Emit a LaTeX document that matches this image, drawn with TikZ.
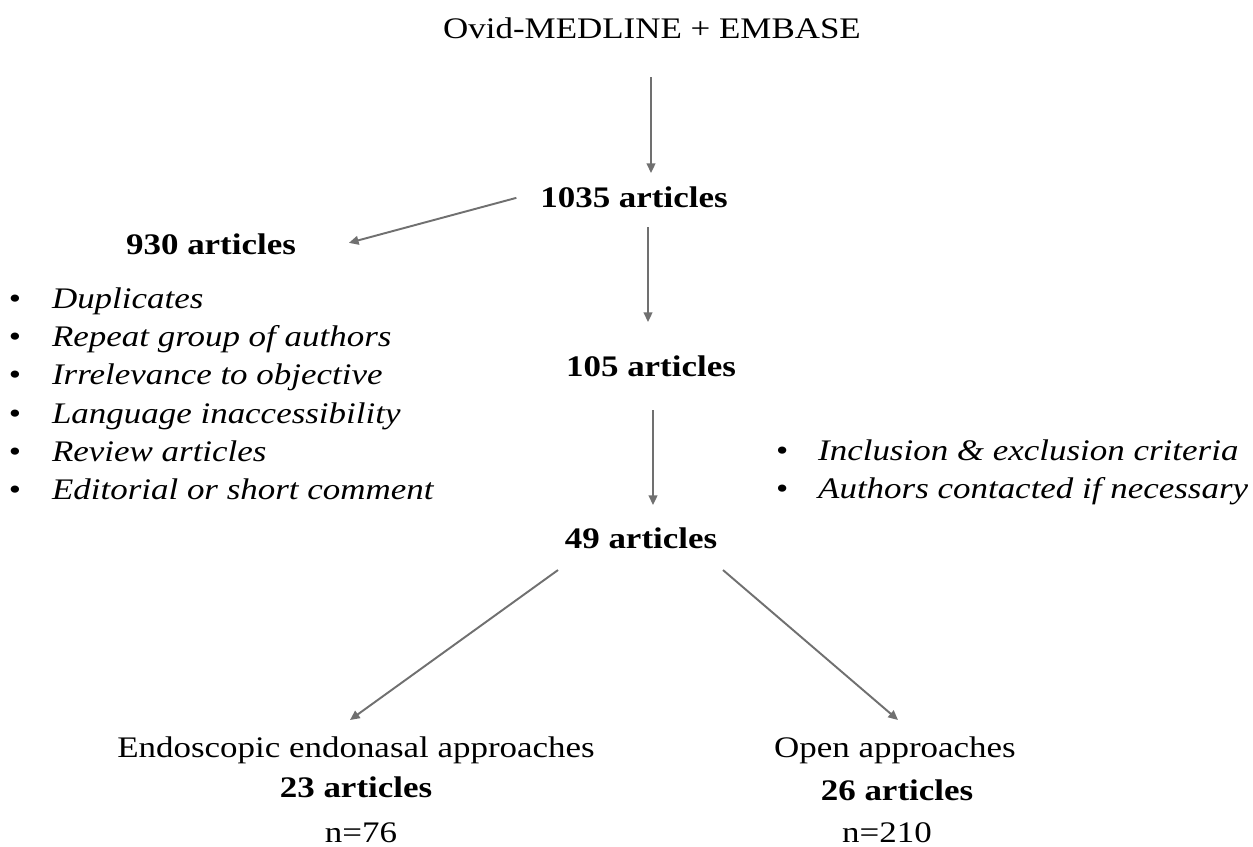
\documentclass[tikz,border=0pt]{standalone}
\usepackage{fontspec}
\setmainfont{Liberation Serif}[FakeStretch=1.17]
\usetikzlibrary{arrows.meta}
\definecolor{arrgray}{RGB}{112,112,112}
\begin{document}
\begin{tikzpicture}[x=0.02cm,y=-0.02cm,
  txt/.style={inner sep=0pt,outer sep=0pt,anchor=base,text height=11pt,text depth=4pt,font=\fontsize{17}{20}\selectfont},
  bold/.style={txt,font=\fontsize{17}{20}\selectfont\bfseries},
  lst/.style={inner sep=0pt,outer sep=0pt,anchor=base west,font=\fontsize{17}{21.85}\selectfont\itshape},
  arr/.style={draw=arrgray,line width=1.1pt,-{Triangle[length=5.5pt,width=5pt]}}]
\useasboundingbox (0,0) rectangle (1253,846);
\node[txt] (title) at (652,38) {Ovid-MEDLINE + EMBASE};
\node[bold] (n1035) at (634,207) {1035 articles};
\node[bold] (n930) at (211,254) {930 articles};
\node[bold] (n105) at (651,376) {105 articles};
\node[bold] (n49) at (641,548) {49 articles};
\node[lst] (excl) at (9,308) {\begin{tabular}[t]{@{}p{24.5pt}@{}l@{}}
{\upshape\textbullet} & Duplicates\\
{\upshape\textbullet} & Repeat group of authors\\
{\upshape\textbullet} & Irrelevance to objective\\
{\upshape\textbullet} & Language inaccessibility\\
{\upshape\textbullet} & Review articles\\
{\upshape\textbullet} & Editorial or short comment
\end{tabular}};
\node[lst] (crit) at (776,460) {\begin{tabular}[t]{@{}p{24pt}@{}l@{}}
{\upshape\textbullet} & Inclusion \& exclusion criteria\\
{\upshape\textbullet} & Authors contacted if necessary
\end{tabular}};
\node[txt] (endo) at (356,757) {Endoscopic endonasal approaches};
\node[bold] (n23) at (356,797) {23 articles};
\node[txt] (n76) at (361,842) {n=76};
\node[txt] (open) at (895,757) {Open approaches};
\node[bold] (n26) at (897,800) {26 articles};
\node[txt] (n210) at (887,842) {n=210};
\draw[arr] ([shift={(-1,32)}]title.south) -- ([shift={(17,-14.7)}]n1035.north);
\draw[arr] ([shift={(-24,-3)}]n1035.west) -- ([shift={(53,-5)}]n930.east);
\draw[arr] ([shift={(14,13)}]n1035.south) -- ([shift={(-3,-34.7)}]n105.north);
\draw[arr] ([shift={(2,27)}]n105.south) -- ([shift={(12,-23.7)}]n49.north);
\draw[arr] ([shift={(-83,15)}]n49.south) -- ([shift={(-6,-17.7)}]endo.north);
\draw[arr] ([shift={(82,15)}]n49.south) -- ([shift={(3,-17.7)}]open.north);
\end{tikzpicture}
\end{document}
